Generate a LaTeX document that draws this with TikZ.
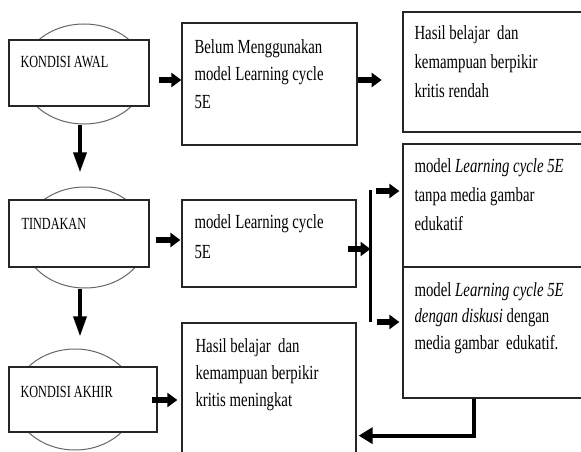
\documentclass[tikz,border=0pt]{standalone}
\usepackage{fontspec}
\setmainfont{Liberation Serif}
\usetikzlibrary{arrows.meta,calc,shapes.geometric}
\newcommand{\tx}[2][0.74]{\scalebox{#1}[1]{\begin{tabular}[t]{@{}l@{}}#2\end{tabular}}}
\begin{document}
\begin{tikzpicture}[x=1pt,y=-1pt,
  box/.style={draw=black!85, line width=1.3pt, fill=white, inner sep=0pt, rectangle},
  ell/.style={draw=black!60, line width=1pt, fill=white, ellipse, inner sep=0pt},
  txt/.style={anchor=base west, inner sep=0pt, font=\fontsize{20}{#1}\selectfont},
  lbl/.style={anchor=base west, inner sep=0pt, font=\fontsize{17}{20}\selectfont},
  blk/.style={line width=6pt, -{Triangle[length=10pt,width=14pt]}},
  down/.style={line width=3.5pt, -{Triangle[length=20pt,width=13pt]}},
  con/.style={line width=4pt, -{Triangle[length=14pt,width=16pt]}}]
\useasboundingbox (0,0) rectangle (581,452);
\clip (0,0) rectangle (581,452);
\fill[white] (0,0) rectangle (581,452);

% left column
\node[ell, minimum width=124pt, minimum height=100pt] (awE) at (84,74) {};
\node[box, minimum width=140pt, minimum height=66pt] (aw) at (79,73) {};
\node[lbl] (awT) at ($(aw.north west)+(12,28)$) {\tx[0.72]{KONDISI AWAL}};

\node[ell, minimum width=124pt, minimum height=101pt] (tiE) at (85,237.5) {};
\node[box, minimum width=140pt, minimum height=67pt] (ti) at (79,233.5) {};
\node[lbl] (tiT) at ($(ti.north west)+(13,30)$) {\tx[0.72]{TINDAKAN}};

\node[ell, minimum width=122pt, minimum height=101pt] (akE) at (75,399.5) {};
\node[box, minimum width=148pt, minimum height=65pt] (ak) at (83,399.5) {};
\node[lbl] (akT) at ($(ak.north west)+(12,31)$) {\tx[0.72]{KONDISI AKHIR}};

% middle column
\node[box, minimum width=175pt, minimum height=122pt] (b1) at (269.5,84) {};
\node[txt=27.5] (b1T) at ($(b1.north west)+(13,31)$) {\tx{Belum Menggunakan\\model Learning cycle\\5E}};

\node[box, minimum width=174pt, minimum height=87pt] (b2) at (269,243.5) {};
\node[txt=30] (b2T) at ($(b2.north west)+(13,29)$) {\tx{model Learning cycle\\5E}};

\node[box, minimum width=174pt, minimum height=147pt] (b3) at (269,396.5) {};
\node[txt=27] (b3T) at ($(b3.north west)+(14,30)$) {\tx{Hasil belajar~ dan\\kemampuan berpikir\\kritis meningkat}};

% right column
\node[box, minimum width=197pt, minimum height=120pt] (r1) at (501.5,72) {};
\node[txt=29] (r1T) at ($(r1.north west)+(12,28)$) {\tx{Hasil belajar~ dan\\kemampuan berpikir\\kritis rendah}};

\node[box, minimum width=197pt, minimum height=123pt] (r2) at (501.5,205.5) {};
\node[txt=29] (r2T) at ($(r2.north west)+(12,29)$) {\tx{model \textit{Learning cycle 5E}\\tanpa media gambar\\edukatif}};

\node[box, minimum width=197pt, minimum height=131pt] (r3) at (501.5,332.5) {};
\node[txt=26.5] (r3T) at ($(r3.north west)+(12,30)$) {\tx{model \textit{Learning cycle 5E}\\\textit{dengan diskusi} dengan\\media gambar~ edukatif.}};

% bracket
\coordinate (brT) at (370.5,190);
\coordinate (brB) at (370.5,322);
\draw[line width=3.5pt] (brT) -- (brB);

% arrows
\draw[down] (awE.south -| aw.south) ++(1,0) -- ($(ti.north)+(1,-27)$);
\draw[down] (tiE.south -| ti.south) ++(1,0) -- ($(ak.north)+(-3,-30)$);

\draw[blk] ($(b1.west)+(-22,-4)$) -- ($(b1.west)+(0,-4)$);
\draw[blk] ($(b1.east)+(0,-4)$) -- ($(b1.east)+(24,-4)$);
\draw[blk] ($(b2.west)+(-25,-3.5)$) -- ($(b2.west)+(-1,-3.5)$);
\draw[blk] ($(b2.east)+(-9,5.5)$) -- (brT |- 0,249);
\draw[blk] ($(brT)+(5,1)$) -- ($(r2.west |- 0,191)+(-3,0)$);
\draw[blk] ($(brB)+(6,0)$) -- ($(r3.west |- 0,322)+(-3,0)$);
\draw[blk] ($(b3.west)+(-29,3.5)$) -- ($(b3.west)+(-4,3.5)$);

\draw[con] ($(r3.south west)+(72,0)$) |- ($(b3.south east)+(2,-35)$);
\end{tikzpicture}
\end{document}
